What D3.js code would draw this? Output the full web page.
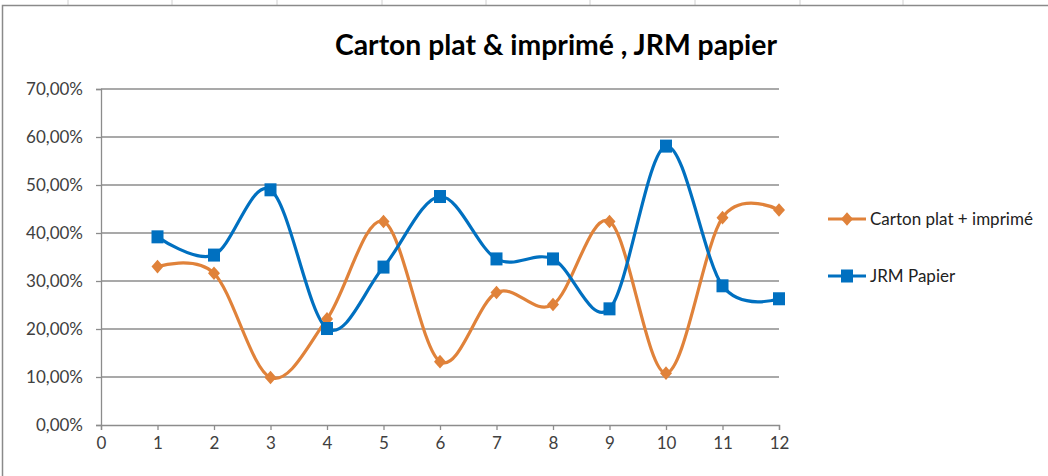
<!DOCTYPE html>
<html>
<head>
    <meta charset="utf-8">
    <style>
        body {
            margin: 0;
            background: #fff;
        }
        svg text {
            font-family: Lato, "Noto Sans", sans-serif;
        }
        .title {
            font-weight: bold;
            font-size: 29px;
            fill: #000;
        }
        .axis text {
            font-size: 17px;
            fill: #404040;
        }
        .legend text {
            font-size: 17px;
            fill: #222;
        }
    </style>
    <script src="https://d3js.org/d3.v7.min.js"></script>
</head>
<body>
    <svg width="1048" height="476"></svg>

    <script>
        // data
        var months = [1, 2, 3, 4, 5, 6, 7, 8, 9, 10, 11, 12];
        var carton = [0.330, 0.316, 0.099, 0.221, 0.424, 0.132, 0.276, 0.251, 0.424, 0.108, 0.432, 0.448];
        var jrm    = [0.392, 0.354, 0.490, 0.201, 0.329, 0.476, 0.346, 0.346, 0.242, 0.581, 0.290, 0.263];
        var xTicks = [0, 1, 2, 3, 4, 5, 6, 7, 8, 9, 10, 11, 12];
        var yTicks = [0, 0.1, 0.2, 0.3, 0.4, 0.5, 0.6, 0.7];
        var seriesNames = ["Carton plat + imprimé", "JRM Papier"];
        var colors = ["#E0823A", "#0070C0"];

        var svg = d3.select("svg");

        // spreadsheet cells peeking above the chart frame
        var cols = [68, 172, 277, 382, 486, 590, 695, 800, 903];
        svg.selectAll(".cell")
           .data(cols)
           .enter().append("line")
           .attr("x1", function(d) { return d; })
           .attr("x2", function(d) { return d; })
           .attr("y1", 0).attr("y2", 5)
           .attr("stroke", "#d0d0d0");

        // chart frame
        svg.append("path")
           .attr("d", "M2.5,480 V5.5 H1050")
           .attr("fill", "none")
           .attr("stroke", "#8a8a8a")
           .attr("stroke-width", 1.5);

        var x = d3.scaleLinear().domain([0, 12]).range([101, 779]);
        var y = d3.scaleLinear().domain([0, 0.7]).range([425, 89]);

        var fmt = function(d) { return d3.format(".2f")(d * 100).replace(".", ",") + "%"; };

        // gridlines
        svg.append("g")
           .selectAll("line")
           .data(yTicks.slice(1))
           .enter().append("line")
           .attr("x1", x(0)).attr("x2", x(12))
           .attr("y1", function(d) { return y(d); })
           .attr("y2", function(d) { return y(d); })
           .attr("stroke", "#8c8c8c")
           .attr("stroke-width", 1.3);

        svg.append("g")
           .attr("class", "axis")
           .attr("transform", "translate(" + x(0) + ",0)")
           .call(d3.axisLeft(y).tickValues(yTicks).tickFormat(fmt).tickSize(5).tickPadding(13));

        svg.append("g")
           .attr("class", "axis")
           .attr("transform", "translate(0," + y(0) + ")")
           .call(d3.axisBottom(x).tickValues(xTicks).tickFormat(d3.format("d")).tickSize(5).tickPadding(7));

        svg.selectAll(".axis path, .axis line")
           .attr("stroke", "#8c8c8c")
           .attr("stroke-width", 1.3);

        var line = d3.line()
                     .x(function(d, i) { return x(months[i]); })
                     .y(function(d) { return y(d); })
                     .curve(d3.curveCatmullRom.alpha(0));

        // Excel-style diamond marker, a bit taller than wide
        var diamond = "M0,-6.8 L6,0 L0,6.8 L-6,0 Z";

        svg.append("path")
           .datum(carton)
           .attr("d", line)
           .attr("fill", "none")
           .attr("stroke", colors[0])
           .attr("stroke-width", 3.2);

        svg.append("path")
           .datum(jrm)
           .attr("d", line)
           .attr("fill", "none")
           .attr("stroke", colors[1])
           .attr("stroke-width", 3.2);

        svg.append("g")
           .selectAll("path")
           .data(carton)
           .enter().append("path")
           .attr("d", diamond)
           .attr("transform", function(d, i) { return "translate(" + x(months[i]) + "," + y(d) + ")"; })
           .attr("fill", colors[0]);

        svg.append("g")
           .selectAll("rect")
           .data(jrm)
           .enter().append("rect")
           .attr("x", function(d, i) { return x(months[i]) - 6; })
           .attr("y", function(d) { return y(d) - 6.5; })
           .attr("width", 12)
           .attr("height", 13)
           .attr("fill", colors[1]);

        // title
        svg.append("text")
           .attr("class", "title")
           .attr("x", 335)
           .attr("y", 55)
           .attr("textLength", 442)
           .attr("lengthAdjust", "spacingAndGlyphs")
           .text("Carton plat & imprimé , JRM papier");

        // legend
        var legend = svg.append("g").attr("class", "legend");
        var ly = [219, 276];
        seriesNames.forEach(function(name, i) {
            var g = legend.append("g").attr("transform", "translate(828," + ly[i] + ")");
            g.append("line")
             .attr("x1", 0).attr("x2", 38)
             .attr("stroke", colors[i])
             .attr("stroke-width", 3.2);
            if (i === 0) {
                g.append("path")
                 .attr("d", diamond)
                 .attr("transform", "translate(19,0)")
                 .attr("fill", colors[i]);
            } else {
                g.append("rect")
                 .attr("x", 13).attr("y", -6.5)
                 .attr("width", 12).attr("height", 13)
                 .attr("fill", colors[i]);
            }
            g.append("text")
             .attr("x", 42)
             .attr("dy", "0.35em")
             .text(name);
        });
    </script>
</body>
</html>
